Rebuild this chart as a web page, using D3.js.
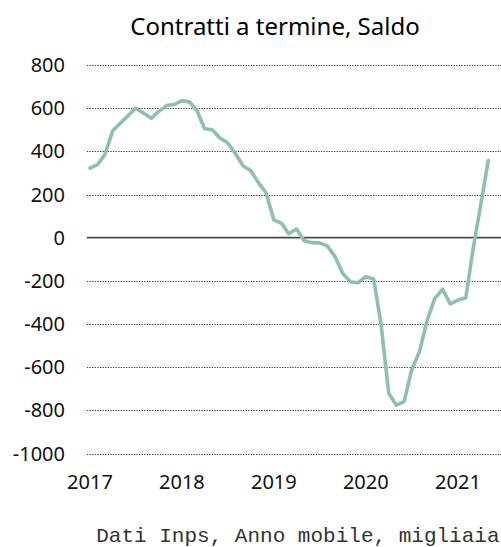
<!DOCTYPE html>
<html>
<head>
<meta charset="utf-8">
<script src="https://cdn.jsdelivr.net/npm/d3@7"></script>
<style>
  html, body { margin: 0; padding: 0; background: #ffffff; }
  svg { display: block; }
</style>
</head>
<body>
<svg id="chart" width="501" height="547"></svg>
<script>
// ---- Data ----
const title = "Contratti a termine, Saldo";
const footnote = "Dati Inps, Anno mobile, migliaia";
const startYear = 2017;
const startMonth = 0; // January 2017
const saldo = [
  322, 340, 385, 495, 530, 565, 600, 578, 553, 585, 612, 617,
  635, 628, 590, 505, 500, 462, 440, 390, 332, 311, 254, 208,
  82, 66, 18, 40, -14, -23, -24, -38, -88, -165, -204, -209,
  -181, -191, -397, -721, -776, -760, -613, -528, -381, -281, -239, -307,
  -289, -278, -60, 150, 357
];
const yTicks = [800, 600, 400, 200, 0, -200, -400, -600, -800, -1000];
const xTickYears = [2017, 2018, 2019, 2020, 2021];

// ---- Layout ----
const W = 501, H = 547;
const plotLeft = 87, plotRight = 501;
const svg = d3.select("#chart");

const dates = saldo.map((v, i) => new Date(startYear, startMonth + i, 1));
const x = d3.scaleTime()
  .domain([new Date(2017, 0, 1), new Date(2021, 0, 1)])
  .range([90, 458]);
const y = d3.scaleLinear()
  .domain([-1000, 800])
  .range([453.5, 65]);

// Gridlines
svg.append("g").selectAll("line")
  .data(yTicks.filter(d => d !== 0))
  .join("line")
  .attr("x1", plotLeft).attr("x2", plotRight)
  .attr("y1", d => Math.round(y(d)) + 0.5).attr("y2", d => Math.round(y(d)) + 0.5)
  .attr("stroke", "#3a3a3a")
  .attr("stroke-width", 1)
  .attr("stroke-dasharray", "1.3,1.3");

// Zero line
svg.append("line")
  .attr("x1", plotLeft).attr("x2", plotRight)
  .attr("y1", y(0)).attr("y2", y(0))
  .attr("stroke", "#4a4a4a")
  .attr("stroke-width", 1.8);

// Y labels
svg.append("g").selectAll("text")
  .data(yTicks)
  .join("text")
  .attr("x", 65)
  .attr("y", d => y(d))
  .attr("dy", "0.35em")
  .attr("text-anchor", "end")
  .attr("font-family", "'Noto Sans', 'Open Sans', sans-serif")
  .attr("font-size", 20)
  .attr("fill", "#111")
  .text(d => d);

// X labels
svg.append("g").selectAll("text")
  .data(xTickYears)
  .join("text")
  .attr("x", d => x(new Date(d, 0, 1)))
  .attr("y", 489)
  .attr("text-anchor", "middle")
  .attr("font-family", "'Noto Sans', 'Open Sans', sans-serif")
  .attr("font-size", 20)
  .attr("fill", "#111")
  .text(d => d);

// Line
const line = d3.line()
  .x((d, i) => x(dates[i]))
  .y(d => y(d));
svg.append("path")
  .datum(saldo)
  .attr("d", line)
  .attr("fill", "none")
  .attr("stroke", "#8fbfb0")
  .attr("stroke-width", 3.6)
  .attr("stroke-linejoin", "round")
  .attr("stroke-linecap", "round");

// Title
svg.append("text")
  .attr("x", 275)
  .attr("y", 35)
  .attr("text-anchor", "middle")
  .attr("font-family", "'Noto Sans', 'Open Sans', sans-serif")
  .attr("font-size", 24)
  .attr("fill", "#000")
  .text(title);

// Footnote
svg.append("text")
  .attr("x", 499.5)
  .attr("y", 542)
  .attr("text-anchor", "end")
  .attr("font-family", "'Liberation Mono', 'DejaVu Sans Mono', monospace")
  .attr("font-size", 21)
  .attr("fill", "#333")
  .text(footnote);
</script>
</body>
</html>
